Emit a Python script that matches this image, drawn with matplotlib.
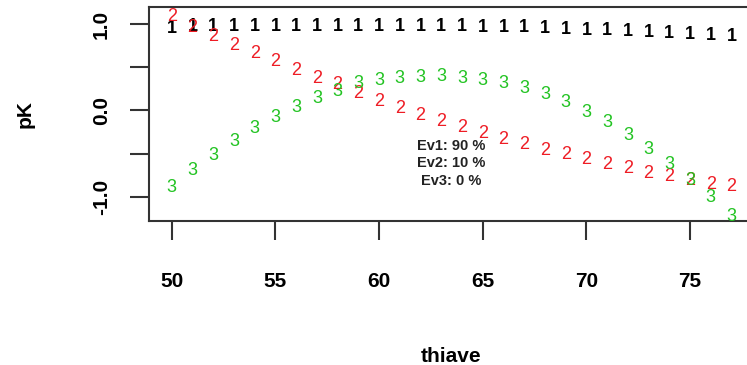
import matplotlib.pyplot as plt

# thiave values (x) and the three pK curves
thiave = [50, 51, 52, 53, 54, 55, 56, 57, 58, 59, 60, 61, 62, 63,
          64, 65, 66, 67, 68, 69, 70, 71, 72, 73, 74, 75, 76, 77]
pk1 = [0.98, 0.994, 0.994, 0.994, 0.994, 0.994, 0.994, 0.994, 0.994, 0.994,
       0.994, 0.994, 0.994, 0.995, 0.994, 0.99, 0.986, 0.983, 0.975, 0.967,
       0.955, 0.948, 0.936, 0.928, 0.916, 0.909, 0.897, 0.886]
pk2 = [1.11, 0.983, 0.878, 0.78, 0.683, 0.586, 0.489, 0.391, 0.321, 0.216,
       0.131, 0.05, -0.036, -0.1, -0.172, -0.242, -0.308, -0.374, -0.436, -0.49,
       -0.549, -0.6, -0.646, -0.705, -0.743, -0.793, -0.833, -0.86]
pk3 = [-0.872, -0.677, -0.502, -0.339, -0.184, -0.055, 0.061, 0.166, 0.244, 0.333,
       0.372, 0.4, 0.411, 0.415, 0.4, 0.372, 0.341, 0.283, 0.205, 0.111,
       0.003, -0.114, -0.269, -0.425, -0.6, -0.793, -0.988, -1.205]
ev_labels = ["Ev1: 90 %", "Ev2: 10 %", "Ev3: 0 %"]

plt.rcParams['font.family'] = ['Liberation Sans', 'DejaVu Sans']

fig = plt.figure(figsize=(7.47, 3.65), dpi=100)
ax = fig.add_axes([0.1999, 0.3932, 0.8094, 0.5884])

# matplot-style: each point drawn as its series number
series = [(pk1, '1', '#000000', 'bold'), (pk2, '2', '#ee1c24', 'normal'),
          (pk3, '3', '#22c322', 'normal')]
for vals, ch, col, wt in series:
    for x, y in zip(thiave, vals):
        ax.text(x, y, ch, color=col, fontsize=13, fontweight=wt,
                ha='center', va='center_baseline')

# explained variance note
for i, lab in enumerate(ev_labels):
    ax.text(63.47, -0.412 - 0.203 * i, lab, fontsize=10.5, fontweight='bold',
            ha='center', va='center', color='#222222')

ax.set_xlim(48.92, 78.08)
ax.set_ylim(-1.288, 1.204)
ax.set_xticks([50, 55, 60, 65, 70, 75])
ax.set_yticks([-1.0, -0.5, 0.0, 0.5, 1.0])
ax.set_yticklabels(['-1.0', '', '0.0', '', '1.0'])
ax.tick_params(axis='both', length=13.7, width=1.5, color='#333333', labelsize=15)
ax.tick_params(axis='x', pad=23)
ax.tick_params(axis='y', pad=14)
for lab in ax.get_xticklabels():
    lab.set_fontweight('bold')
for lab in ax.get_yticklabels():
    lab.set_fontweight('bold')
    lab.set_rotation(90)
    lab.set_va('center')
for sp in ax.spines.values():
    sp.set_linewidth(1.5)
    sp.set_color('#333333')

fig.text(451 / 747, 1 - 357 / 365, 'thiave', fontsize=15, fontweight='bold',
         ha='center', va='center')
fig.text(25 / 747, 1 - 114 / 365, 'pK', fontsize=15, fontweight='bold',
         ha='center', va='center', rotation=90)

fig.savefig('out.png', dpi=100)
